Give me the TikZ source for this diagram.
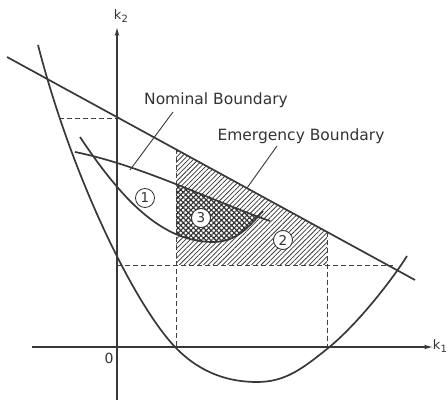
\documentclass[tikz,border=0pt]{standalone}
\usepackage{fontspec}
\setmainfont{DejaVu Sans}
\usetikzlibrary{patterns.meta,arrows.meta}
\begin{document}
\begin{tikzpicture}[x=1pt,y=-1pt,
  curve/.style={line width=1.7pt,draw=black!78},
  axisline/.style={line width=1.2pt,draw=black!78,-{Stealth[length=8pt,width=4.5pt]}},
  guide/.style={line width=0.9pt,draw=black!75,dash pattern=on 5pt off 3pt},
  lbl/.style={font=\fontsize{15.5}{17}\selectfont,text=black!80,inner sep=0pt},
  axlbl/.style={font=\fontsize{13}{14}\selectfont,text=black!80,inner sep=0pt},
  num/.style={circle,draw=black!80,fill=white,line width=0.8pt,minimum size=19pt,inner sep=0pt,font=\fontsize{13.5}{13.5}\selectfont,text=black!80},
  leader/.style={line width=0.9pt,draw=black!78},
  hatch/.style={pattern={Lines[angle=45,distance=3.4pt,line width=0.75pt]},pattern color=black!78},
  xhatch/.style={pattern={Hatch[angle=45,distance=3.6pt,line width=1.15pt]},pattern color=black!80}]
\useasboundingbox (0,0) rectangle (448,401);

% region 2 (hatched)
\path[hatch] (176,149.4) -- (327,231.9) -- (327,265) -- (176,265) -- cycle;

% region 3 (cross-hatched): intersection of the lens with x >= 176
\begin{scope}
  \clip (176,0) rectangle (448,401);
  \clip (75,152) .. controls (140,165) and (210,200) .. (270,221) -- (270,400) -- (75,400) -- cycle;
  \clip (80,137) .. controls (122,200) and (162,242) .. (213,242) .. controls (238,242) and (250,225) .. (263,211) -- (263,0) -- (80,0) -- cycle;
  \fill[white] (176,150) rectangle (280,250);
  \path[xhatch] (176,150) rectangle (280,250);
\end{scope}

% guide lines
\draw[guide] (59,118) -- (117,118);
\draw[guide] (117,265) -- (393,265);
\draw[guide] (176,149.4) -- (176,347);
\draw[guide] (327,231.9) -- (327,347);

% emergency boundary line
\coordinate (L1) at (7,57);
\coordinate (L2) at (415,280);
\draw[curve] (L1) -- (L2);

% big curve
\draw[curve] (38,45) .. controls (73,181) and (137,309) .. (177,349)
  .. controls (202,374) and (230,382) .. (257,382)
  .. controls (285,382) and (302,369) .. (327,349)
  .. controls (357,325) and (392,280) .. (407,256);

% nominal boundary lens
\draw[curve] (75,152) .. controls (140,165) and (210,200) .. (270,221);
\draw[curve] (80,137) .. controls (122,200) and (162,242) .. (213,242) .. controls (238,242) and (250,225) .. (263,211);

% axes
\draw[axisline] (117,400) -- (117,28);
\draw[axisline] (32,347) -- (432,347);
\node[axlbl] (k2) at (121,16) {k\kern0.3pt\raisebox{-2.5pt}{\fontsize{10}{10}\selectfont 2}};
\node[axlbl] (k1) at (440,346) {k\kern0.3pt\raisebox{-2.5pt}{\fontsize{10}{10}\selectfont 1}};
\node[axlbl,font=\fontsize{14}{14}\selectfont] (o) at (109,358) {0};

% labels
\node[lbl] (nom) at (216,100) {Nominal Boundary};
\node[lbl] (emg) at (301,136) {Emergency Boundary};
\coordinate (nomend) at (130,170);
\coordinate (emgend) at (247,188);
\draw[leader] (173,112) -- (nomend);
\draw[leader] (277,146) -- (emgend);

% region numbers
\node[num] (r1) at (145,198) {1};
\node[num] (r3) at (201,218) {3};
\node[num] (r2) at (283,240) {2};
\end{tikzpicture}
\end{document}
